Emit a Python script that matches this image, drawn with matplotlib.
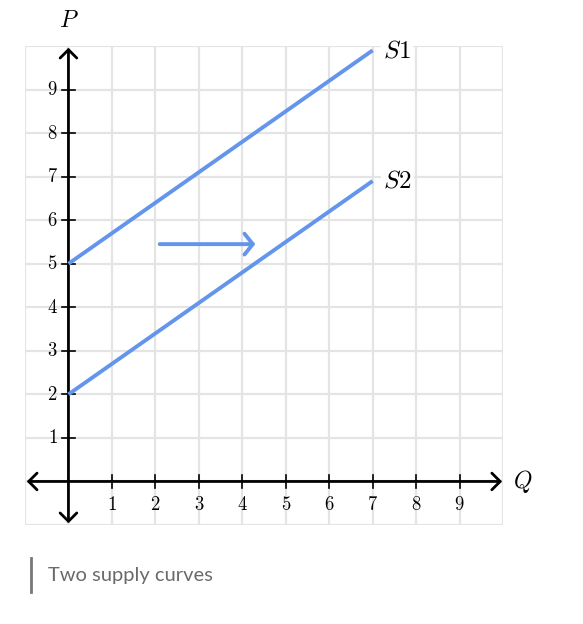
import matplotlib.pyplot as plt
import numpy as np

plt.rcParams['mathtext.fontset'] = 'cm'

# supply curves (Q, P)
s1_q = [0, 7]
s1_p = [5, 9.9]
s2_q = [0, 7]
s2_p = [2, 6.9]
curve_names = ['S1', 'S2']

# shift arrow
shift_start = (2.1, 5.45)
shift_end = (4.3, 5.45)

ticks = list(range(1, 10))
caption = 'Two supply curves'

blue = '#6495ed'

fig = plt.figure(figsize=(5.83, 6.24), dpi=100)
ax = fig.add_axes([25 / 583, 1 - 525 / 624, 478 / 583, 479 / 624])
ax.set_xlim(-1, 10)
ax.set_ylim(-1, 10)
ax.axis('off')

# grid
for g in range(-1, 11):
    ax.plot([g, g], [-1, 10], color='#e4e4e4', lw=1.6, zorder=0, solid_capstyle='butt')
    ax.plot([-1, 10], [g, g], color='#e4e4e4', lw=1.6, zorder=0, solid_capstyle='butt')

# axes with arrows
arrow_kw = dict(arrowstyle='<->,head_length=0.6,head_width=0.6', color='black', lw=2,
                shrinkA=0, shrinkB=0)
ax.annotate('', xy=(9.98, 0), xytext=(-0.96, 0), arrowprops=arrow_kw, zorder=3)
ax.annotate('', xy=(0, 9.96), xytext=(0, -0.96), arrowprops=arrow_kw, zorder=3)

# ticks and labels
tl = 0.15
for t in ticks:
    ax.plot([t, t], [-tl, tl], color='black', lw=1.2, zorder=3)
    ax.plot([-tl, tl], [t, t], color='black', lw=1.2, zorder=3)
    ax.text(t, -0.52, f'${t}$', ha='center', va='center', fontsize=13.5)
    ax.text(-0.25, t, f'${t}$', ha='right', va='center', fontsize=13.5)

ax.text(0, 10.6, '$P$', ha='center', va='center', fontsize=17)
ax.text(10.45, 0, '$Q$', ha='center', va='center', fontsize=17)

# supply curves
ax.plot(s1_q, s1_p, color=blue, lw=2.8, zorder=4, solid_capstyle='butt')
ax.plot(s2_q, s2_p, color=blue, lw=2.8, zorder=4, solid_capstyle='butt')
lab_box = dict(facecolor='white', edgecolor='none', pad=1.5)
ax.text(s1_q[-1] + 0.24, s1_p[-1], '$' + curve_names[0] + '$', ha='left', va='center',
        fontsize=18, bbox=lab_box, zorder=5)
ax.text(s2_q[-1] + 0.24, s2_p[-1], '$' + curve_names[1] + '$', ha='left', va='center',
        fontsize=18, bbox=lab_box, zorder=5)

ax.annotate('', xy=shift_end, xytext=shift_start,
            arrowprops=dict(arrowstyle='->,head_length=0.6,head_width=0.75', color=blue, lw=2.8,
                            shrinkA=0, shrinkB=0), zorder=4)

# caption
fig.add_artist(plt.Line2D([31 / 583, 31 / 583], [1 - 558 / 624, 1 - 592 / 624], color='#777777', lw=2))
fig.text(48 / 583, 1 - 575 / 624, caption, fontsize=14.5, family='Lato', color='#6a6a6a',
         ha='left', va='center')

fig.savefig('out.png', dpi=100)
